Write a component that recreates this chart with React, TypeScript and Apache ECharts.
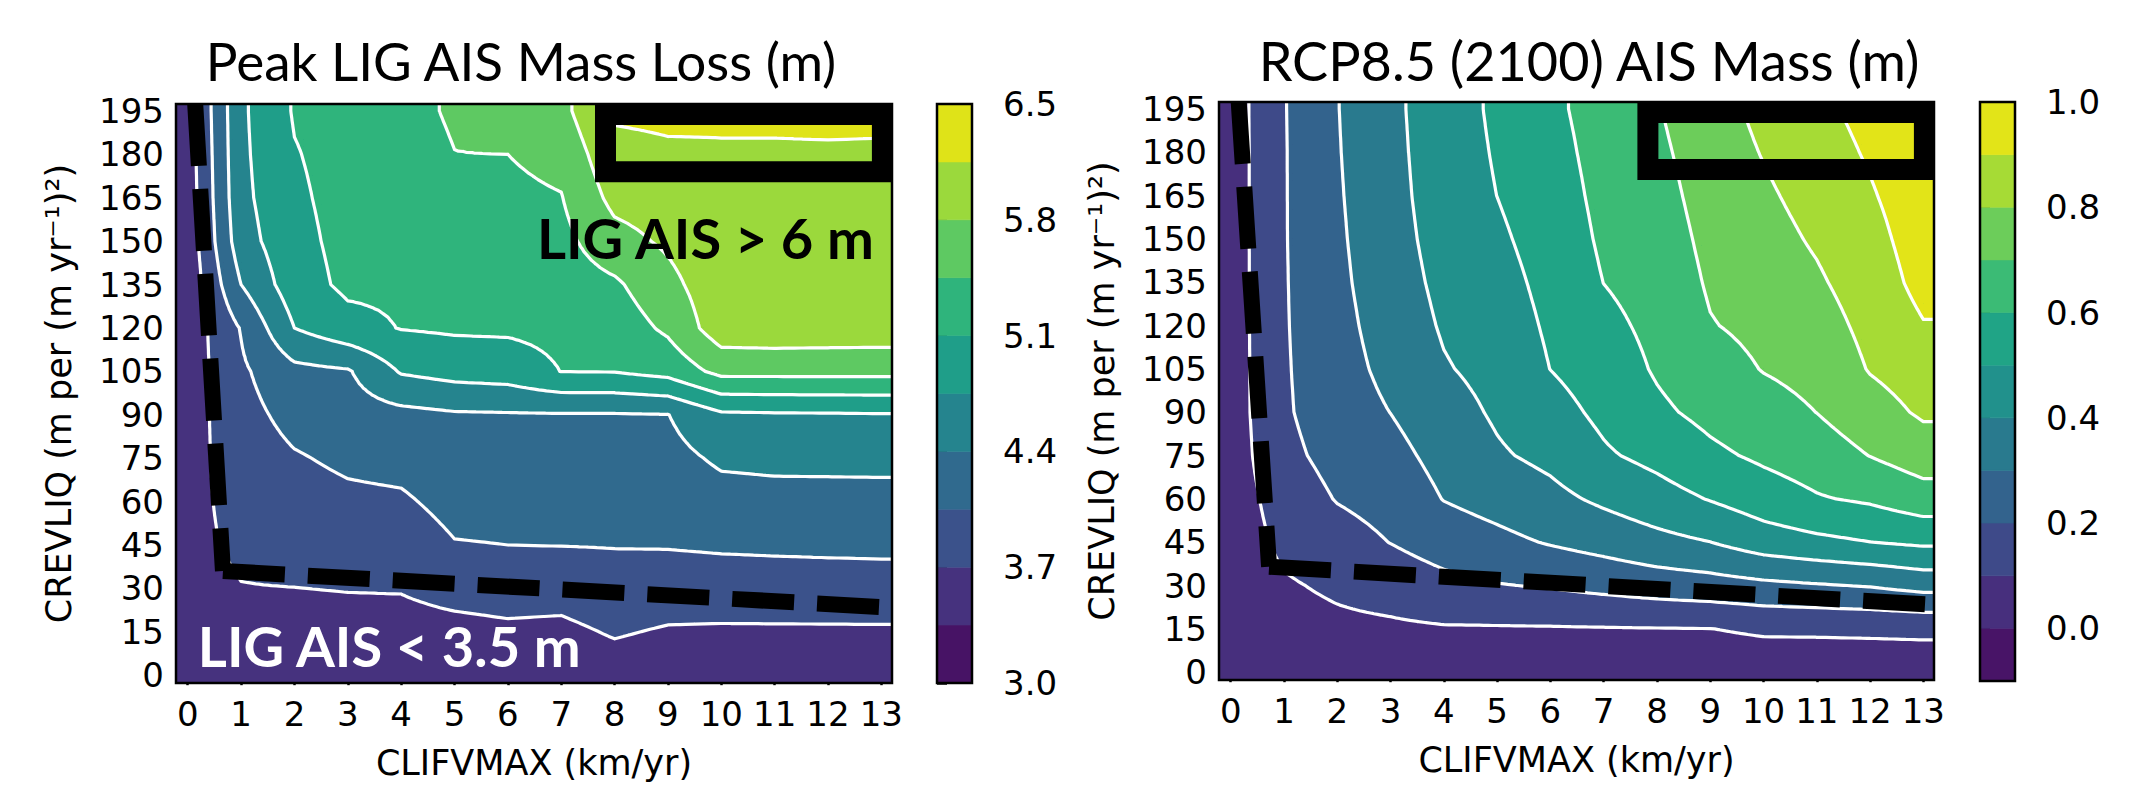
import React, { useEffect, useRef } from "react";
import * as echarts from "echarts";

// ---------- axes ----------
const CLIFVMAX = [0, 1, 2, 3, 4, 5, 6, 7, 8, 9, 10, 11, 12, 13];
const CREVLIQ = [0, 15, 30, 45, 60, 75, 90, 105, 120, 135, 150, 165, 180, 195];
const X_RANGE = [-0.22, 13.2];
const Y_RANGE = [-2.7, 197.4];

// ---------- left panel: Peak LIG AIS mass loss (m), rows = CREVLIQ (0..195), cols = CLIFVMAX (0..13) ----------
const LIG_LEVELS = [3.0, 3.35, 3.7, 4.05, 4.4, 4.75, 5.1, 5.45, 5.8, 6.15, 6.5];
const LIG_TICKS = [3.0, 3.7, 4.4, 5.1, 5.8, 6.5];
const LIG_COLORS = ["#471365", "#46327e", "#3b528b", "#306a8e", "#25848e", "#1f9e89", "#2fb47c", "#5ec962", "#9bd93c", "#dfe318"];
const LIG_PEAK_LOSS = [
  [3.45, 3.5, 3.5, 3.5, 3.5, 3.5, 3.5, 3.5, 3.55, 3.5, 3.5, 3.5, 3.5, 3.5],
  [3.5, 3.59, 3.6, 3.6, 3.6, 3.62, 3.65, 3.63, 3.729, 3.67, 3.66, 3.66, 3.66, 3.66],
  [3.58, 3.69, 3.697, 3.71, 3.715, 3.788, 3.816, 3.817, 3.9, 3.859, 3.869, 3.878, 3.887, 3.895],
  [3.62, 3.752, 3.805, 3.847, 3.868, 4.034, 4.05, 4.057, 4.064, 4.071, 4.096, 4.109, 4.118, 4.125],
  [3.6, 3.81, 3.913, 3.981, 4.005, 4.149, 4.157, 4.164, 4.168, 4.179, 4.268, 4.286, 4.289, 4.292],
  [3.57, 3.873, 4.021, 4.112, 4.15, 4.255, 4.264, 4.27, 4.273, 4.286, 4.456, 4.481, 4.483, 4.486],
  [3.54, 3.933, 4.157, 4.239, 4.3, 4.361, 4.371, 4.377, 4.377, 4.393, 4.694, 4.712, 4.719, 4.729],
  [3.5, 3.994, 4.303, 4.366, 4.78, 4.874, 4.915, 5.105, 5.112, 5.217, 5.55, 5.55, 5.55, 5.55],
  [3.48, 4.07, 4.75, 4.983, 5.113, 5.147, 5.152, 5.188, 5.253, 5.513, 6.0, 6.02, 6.01, 6.0],
  [3.45, 4.4, 4.95, 5.17, 5.16, 5.222, 5.226, 5.27, 5.394, 5.7, 6.03, 6.03, 6.03, 6.03],
  [3.48, 4.6, 5.0, 5.2, 5.21, 5.296, 5.3, 5.35, 5.675, 5.857, 6.06, 6.06, 6.06, 6.06],
  [3.5, 4.66, 5.04, 5.22, 5.255, 5.37, 5.375, 5.435, 5.9, 5.979, 6.09, 6.09, 6.09, 6.09],
  [3.52, 4.68, 5.08, 5.23, 5.3, 5.445, 5.45, 5.55, 6.05, 6.101, 6.12, 6.12, 6.12, 6.12],
  [3.55, 4.69, 5.13, 5.24, 5.35, 5.49, 5.61, 5.7, 6.2, 6.22, 6.2, 6.2, 6.21, 6.2],
];

// ---------- right panel: RCP8.5 (2100) AIS mass (m) ----------
const RCP_LEVELS = [-0.1, 0.0, 0.1, 0.2, 0.3, 0.4, 0.5, 0.6, 0.7, 0.8, 0.9, 1.0];
const RCP_TICKS = [0.0, 0.2, 0.4, 0.6, 0.8, 1.0];
const RCP_COLORS = ["#481467", "#472f7d", "#3e4a89", "#33638d", "#297a8e", "#21918c", "#20a486", "#3bbb75", "#6ccd5a", "#a6db35", "#e2e418"];
const RCP_MASS_2100 = [
  [0.02, 0.04, 0.05, 0.05, 0.05, 0.05, 0.05, 0.05, 0.05, 0.05, 0.05, 0.05, 0.05, 0.05],
  [0.03, 0.065, 0.08, 0.085, 0.092, 0.092, 0.093, 0.095, 0.097, 0.099, 0.111, 0.112, 0.114, 0.117],
  [0.04, 0.09, 0.115, 0.138, 0.173, 0.195, 0.208, 0.227, 0.246, 0.259, 0.278, 0.292, 0.306, 0.334],
  [0.045, 0.12, 0.16, 0.202, 0.245, 0.275, 0.307, 0.336, 0.371, 0.399, 0.45, 0.477, 0.499, 0.517],
  [0.047, 0.145, 0.205, 0.235, 0.303, 0.336, 0.373, 0.418, 0.46, 0.505, 0.552, 0.592, 0.614, 0.657],
  [0.048, 0.175, 0.232, 0.269, 0.332, 0.388, 0.424, 0.487, 0.528, 0.58, 0.617, 0.649, 0.702, 0.749],
  [0.05, 0.188, 0.252, 0.301, 0.36, 0.413, 0.463, 0.522, 0.582, 0.626, 0.663, 0.701, 0.759, 0.814],
  [0.05, 0.19, 0.263, 0.325, 0.392, 0.431, 0.501, 0.548, 0.61, 0.66, 0.704, 0.729, 0.806, 0.847],
  [0.05, 0.192, 0.271, 0.342, 0.41, 0.449, 0.514, 0.575, 0.624, 0.695, 0.724, 0.758, 0.827, 0.895],
  [0.05, 0.193, 0.279, 0.355, 0.424, 0.466, 0.527, 0.601, 0.638, 0.711, 0.745, 0.787, 0.848, 0.93],
  [0.05, 0.194, 0.285, 0.364, 0.436, 0.484, 0.54, 0.615, 0.652, 0.724, 0.765, 0.812, 0.869, 0.945],
  [0.05, 0.194, 0.29, 0.37, 0.445, 0.5005, 0.554, 0.625, 0.666, 0.737, 0.785, 0.834, 0.891, 0.955],
  [0.05, 0.194, 0.294, 0.375, 0.449, 0.509, 0.567, 0.633, 0.68, 0.749, 0.805, 0.856, 0.911, 0.963],
  [0.051, 0.195, 0.297, 0.379, 0.452, 0.517, 0.58, 0.639, 0.694, 0.762, 0.824, 0.878, 0.93, 0.97],
];

// ---------- annotations (data coordinates) ----------
const LIG_DASH_VERTICAL = [[0.14, 197.4], [0.66, 36]];
const LIG_DASH_HORIZONTAL = [[0.66, 36], [13.05, 23.5]];
const RCP_DASH_VERTICAL = [[0.15, 197.4], [0.72, 36.5]];
const RCP_DASH_HORIZONTAL = [[0.72, 36.5], [13.05, 23.5]];
const BOX_CORNERS = [[7.83, 174], [13.02, 193.8]];

const TICK_FONT = { fontFamily: "DejaVu Sans", fontSize: 34, color: "#000" };
const NAME_FONT = { fontFamily: "DejaVu Sans", fontSize: 35, color: "#000" };

function clampIdx(v: number, n: number) {
  return Math.min(Math.max(v, 0), n - 1);
}

function f1(n: number) {
  return Math.round(n * 10) / 10;
}

function clipTriangle(tri: number[][], L: number): number[][] {
  const out: number[][] = [];
  for (let m = 0; m < tri.length; m++) {
    const P = tri[m];
    const Q = tri[(m + 1) % tri.length];
    const pin = P[2] >= L;
    const qin = Q[2] >= L;
    if (pin) out.push(P);
    if (pin !== qin) {
      const t = (L - P[2]) / (Q[2] - P[2]);
      out.push([P[0] + t * (Q[0] - P[0]), P[1] + t * (Q[1] - P[1]), L]);
    }
  }
  return out;
}

function polyStr(pts: number[][]) {
  return "M" + pts.map((p) => f1(p[0]) + " " + f1(p[1])).join("L") + "Z";
}

function segInTri(tri: number[][], L: number, segs: string[]) {
  const pts: number[][] = [];
  for (let m = 0; m < 3; m++) {
    const A = tri[m];
    const B = tri[(m + 1) % 3];
    if ((A[2] >= L) !== (B[2] >= L)) {
      const t = (L - A[2]) / (B[2] - A[2]);
      pts.push([A[0] + t * (B[0] - A[0]), A[1] + t * (B[1] - A[1])]);
    }
  }
  if (pts.length === 2) segs.push("M" + f1(pts[0][0]) + " " + f1(pts[0][1]) + "L" + f1(pts[1][0]) + " " + f1(pts[1][1]));
}

function contourRenderer(rows: number[][], levels: number[], colors: string[]) {
  return function (params: any, api: any) {
    const nx = CLIFVMAX.length;
    const ny = CREVLIQ.length;
    // render grid: data nodes plus the axis bounds (edge values carried to the frame)
    const gx = [X_RANGE[0], ...CLIFVMAX, X_RANGE[1]];
    const gy = [Y_RANGE[0], ...CREVLIQ, Y_RANGE[1]];
    const node = (i: number, j: number) => rows[clampIdx(j - 1, ny)][clampIdx(i - 1, nx)];
    const px = gx.map((x) => api.coord([x, CREVLIQ[0]])[0]);
    const py = gy.map((y) => api.coord([CLIFVMAX[0], y])[1]);
    const S = 6;
    const FX: number[] = [], CX: number[] = [], TX: number[] = [];
    for (let i = 0; i < gx.length - 1; i++) {
      for (let s = 0; s < S; s++) {
        FX.push(px[i] + ((px[i + 1] - px[i]) * s) / S);
        CX.push(i);
        TX.push(s / S);
      }
    }
    FX.push(px[gx.length - 1]); CX.push(gx.length - 2); TX.push(1);
    const FY: number[] = [], CY: number[] = [], TY: number[] = [];
    for (let j = 0; j < gy.length - 1; j++) {
      for (let s = 0; s < S; s++) {
        FY.push(py[j] + ((py[j + 1] - py[j]) * s) / S);
        CY.push(j);
        TY.push(s / S);
      }
    }
    FY.push(py[gy.length - 1]); CY.push(gy.length - 2); TY.push(1);

    const F: number[][] = [];
    for (let r = 0; r < FY.length; r++) {
      const row: number[] = [];
      const j = CY[r], u = TY[r];
      for (let c = 0; c < FX.length; c++) {
        const i = CX[c], t = TX[c];
        const v00 = node(i, j), v10 = node(i + 1, j), v01 = node(i, j + 1), v11 = node(i + 1, j + 1);
        row.push((1 - t) * (1 - u) * v00 + t * (1 - u) * v10 + (1 - t) * u * v01 + t * u * v11);
      }
      F.push(row);
    }

    const children: any[] = [];
    const x0 = FX[0], x1 = FX[FX.length - 1];
    const yb = FY[0], yt = FY[FY.length - 1];
    children.push({ type: "rect", shape: { x: x0, y: yt, width: x1 - x0, height: yb - yt }, style: { fill: colors[0] } });

    for (let k = 1; k < levels.length - 1; k++) {
      const L = levels[k];
      const parts: string[] = [];
      for (let r = 0; r < FY.length - 1; r++) {
        let run = -1;
        for (let c = 0; c < FX.length - 1; c++) {
          const a = F[r][c], b = F[r][c + 1], d = F[r + 1][c + 1], e = F[r + 1][c];
          const allIn = a >= L && b >= L && d >= L && e >= L;
          if (allIn) {
            if (run < 0) run = c;
            continue;
          }
          if (run >= 0) {
            parts.push(polyStr([[FX[run], FY[r]], [FX[c], FY[r]], [FX[c], FY[r + 1]], [FX[run], FY[r + 1]]]));
            run = -1;
          }
          if (a >= L || b >= L || d >= L || e >= L) {
            const A = [FX[c], FY[r], a], B = [FX[c + 1], FY[r], b], D = [FX[c + 1], FY[r + 1], d], E = [FX[c], FY[r + 1], e];
            const p1 = clipTriangle([A, B, D], L);
            if (p1.length >= 3) parts.push(polyStr(p1));
            const p2 = clipTriangle([A, D, E], L);
            if (p2.length >= 3) parts.push(polyStr(p2));
          }
        }
        if (run >= 0) {
          const c = FX.length - 1;
          parts.push(polyStr([[FX[run], FY[r]], [FX[c], FY[r]], [FX[c], FY[r + 1]], [FX[run], FY[r + 1]]]));
        }
      }
      if (parts.length) children.push({ type: "path", shape: { pathData: parts.join("") }, style: { fill: colors[k] } });
    }

    for (let k = 1; k < levels.length - 1; k++) {
      const L = levels[k];
      const segs: string[] = [];
      for (let r = 0; r < FY.length - 1; r++) {
        for (let c = 0; c < FX.length - 1; c++) {
          const A = [FX[c], FY[r], F[r][c]], B = [FX[c + 1], FY[r], F[r][c + 1]];
          const D = [FX[c + 1], FY[r + 1], F[r + 1][c + 1]], E = [FX[c], FY[r + 1], F[r + 1][c]];
          segInTri([A, B, D], L, segs);
          segInTri([A, D, E], L, segs);
        }
      }
      if (segs.length)
        children.push({
          type: "path",
          shape: { pathData: segs.join("") },
          style: { fill: null, stroke: "#ffffff", lineWidth: 3.2, lineCap: "round", lineJoin: "round" },
        });
    }
    return { type: "group", children };
  };
}

function overlayRenderer(texts: any[]) {
  return function (params: any, api: any) {
    const children: any[] = [];
    const b0 = api.coord(BOX_CORNERS[0]);
    const b1 = api.coord(BOX_CORNERS[1]);
    children.push({
      type: "rect",
      shape: { x: b0[0], y: b1[1], width: b1[0] - b0[0], height: b0[1] - b1[1] },
      style: { fill: null, stroke: "#000", lineWidth: 21, lineJoin: "miter" },
    });
    for (const t of texts) {
      const p = api.coord(t.at);
      children.push({
        type: "text",
        x: p[0],
        y: p[1],
        scaleX: t.scaleX,
        style: { text: t.text, fill: t.color, font: t.font, align: t.align, verticalAlign: "middle" },
      });
    }
    const f0 = api.coord([X_RANGE[0], Y_RANGE[0]]);
    const f1p = api.coord([X_RANGE[1], Y_RANGE[1]]);
    children.push({
      type: "rect",
      shape: { x: f0[0], y: f1p[1], width: f1p[0] - f0[0], height: f0[1] - f1p[1] },
      style: { fill: null, stroke: "#000", lineWidth: 2.5 },
    });
    return { type: "group", children };
  };
}

function colorbarRenderer(colors: string[]) {
  return function (params: any, api: any) {
    const lo = api.value(1);
    const hi = api.value(2);
    const p0 = api.coord([0, lo]);
    const p1 = api.coord([1, hi]);
    return {
      type: "rect",
      shape: { x: p0[0], y: p1[1], width: p1[0] - p0[0], height: p0[1] - p1[1] },
      style: { fill: colors[params.dataIndex], stroke: colors[params.dataIndex], lineWidth: 0.6 },
    };
  };
}

function colorbarFrame(levels: number[]) {
  return function (params: any, api: any) {
    const p0 = api.coord([0, levels[0]]);
    const p1 = api.coord([1, levels[levels.length - 1]]);
    return {
      type: "rect",
      shape: { x: p0[0], y: p1[1], width: p1[0] - p0[0], height: p0[1] - p1[1] },
      style: { fill: null, stroke: "#000", lineWidth: 2.5 },
    };
  };
}

function plotXAxis(gridIndex: number) {
  return {
    type: "value",
    gridIndex,
    min: X_RANGE[0],
    max: X_RANGE[1],
    axisLine: { show: false },
    axisTick: { show: true, customValues: CLIFVMAX, length: 10, lineStyle: { color: "#000", width: 2.5 } },
    axisLabel: { show: true, customValues: CLIFVMAX, margin: 14, ...TICK_FONT },
    splitLine: { show: false },
    name: "CLIFVMAX (km/yr)",
    nameLocation: "middle",
    nameGap: 62,
    nameTextStyle: NAME_FONT,
  };
}

function plotYAxis(gridIndex: number) {
  return {
    type: "value",
    gridIndex,
    min: Y_RANGE[0],
    max: Y_RANGE[1],
    axisLine: { show: false },
    axisTick: { show: true, customValues: CREVLIQ, length: 10, lineStyle: { color: "#000", width: 2.5 } },
    axisLabel: { show: true, customValues: CREVLIQ, margin: 12, ...TICK_FONT },
    splitLine: { show: false },
    name: "CREVLIQ (m per (m yr\u207B\u00B9)\u00B2)",
    nameLocation: "middle",
    nameRotate: 90,
    nameGap: 100,
    nameTextStyle: NAME_FONT,
  };
}

function cbarXAxis(gridIndex: number) {
  return { type: "value", gridIndex, min: 0, max: 1, show: false };
}

function cbarYAxis(gridIndex: number, levels: number[], ticks: number[]) {
  return {
    type: "value",
    gridIndex,
    position: "right",
    min: levels[0],
    max: levels[levels.length - 1],
    axisLine: { show: false },
    axisTick: { show: true, customValues: ticks, length: 10, lineStyle: { color: "#000", width: 2.5 } },
    axisLabel: { show: true, customValues: ticks, margin: 31, formatter: (v: number) => v.toFixed(1), ...TICK_FONT },
    splitLine: { show: false },
  };
}

function buildOption() {
  const ligBands = LIG_LEVELS.slice(0, -1).map((lo, k) => [0.5, lo, LIG_LEVELS[k + 1]]);
  const rcpBands = RCP_LEVELS.slice(0, -1).map((lo, k) => [0.5, lo, RCP_LEVELS[k + 1]]);
  const dashStyle = { color: "#000", width: 16, type: [62, 23], cap: "butt" };
  const dashSeries = (data: number[][], xi: number) => ({
    type: "line",
    xAxisIndex: xi,
    yAxisIndex: xi,
    data,
    showSymbol: false,
    symbol: "none",
    lineStyle: dashStyle,
    z: 3,
    silent: true,
  });
  return {
    animation: false,
    backgroundColor: "#ffffff",
    grid: [
      { left: 176, top: 104, width: 716, height: 579, outerBoundsMode: "none" },
      { left: 1219, top: 102, width: 715, height: 578, outerBoundsMode: "none" },
      { left: 937, top: 104, width: 35, height: 579, outerBoundsMode: "none" },
      { left: 1980, top: 102, width: 35, height: 579, outerBoundsMode: "none" },
    ],
    xAxis: [plotXAxis(0), plotXAxis(1), cbarXAxis(2), cbarXAxis(3)],
    yAxis: [plotYAxis(0), plotYAxis(1), cbarYAxis(2, LIG_LEVELS, LIG_TICKS), cbarYAxis(3, RCP_LEVELS, RCP_TICKS)],
    graphic: [
      {
        type: "text",
        x: 521,
        y: 60,
        style: { text: "Peak LIG AIS Mass Loss (m)", font: "53px Lato", fill: "#000", align: "center", verticalAlign: "middle" },
      },
      {
        type: "text",
        x: 1589,
        y: 60,
        style: { text: "RCP8.5 (2100) AIS Mass (m)", font: "54px Lato", fill: "#000", align: "center", verticalAlign: "middle" },
      },
    ],
    series: [
      {
        type: "custom",
        coordinateSystem: "cartesian2d",
        xAxisIndex: 0,
        yAxisIndex: 0,
        clip: true,
        z: 1,
        silent: true,
        data: [[6.5, 97.5]],
        renderItem: contourRenderer(LIG_PEAK_LOSS, LIG_LEVELS, LIG_COLORS),
      },
      {
        type: "custom",
        coordinateSystem: "cartesian2d",
        xAxisIndex: 1,
        yAxisIndex: 1,
        clip: true,
        z: 1,
        silent: true,
        data: [[6.5, 97.5]],
        renderItem: contourRenderer(RCP_MASS_2100, RCP_LEVELS, RCP_COLORS),
      },
      dashSeries(LIG_DASH_VERTICAL, 0),
      dashSeries(LIG_DASH_HORIZONTAL, 0),
      dashSeries(RCP_DASH_VERTICAL, 1),
      dashSeries(RCP_DASH_HORIZONTAL, 1),
      {
        type: "custom",
        coordinateSystem: "cartesian2d",
        xAxisIndex: 0,
        yAxisIndex: 0,
        clip: false,
        z: 4,
        silent: true,
        data: [[6.5, 97.5]],
        renderItem: overlayRenderer([
          { text: "LIG AIS > 6 m", at: [12.86, 151.3], color: "#000", font: "bold 56px Lato", align: "right", scaleX: 1 },
          { text: "LIG AIS < 3.5 m", at: [0.19, 10.4], color: "#fff", font: "bold 56px Lato", align: "left", scaleX: 1 },
        ]),
      },
      {
        type: "custom",
        coordinateSystem: "cartesian2d",
        xAxisIndex: 1,
        yAxisIndex: 1,
        clip: false,
        z: 4,
        silent: true,
        data: [[6.5, 97.5]],
        renderItem: overlayRenderer([]),
      },
      {
        type: "custom",
        coordinateSystem: "cartesian2d",
        xAxisIndex: 2,
        yAxisIndex: 2,
        silent: true,
        encode: { x: 0, y: [1, 2] },
        data: ligBands,
        renderItem: colorbarRenderer(LIG_COLORS),
      },
      {
        type: "custom",
        coordinateSystem: "cartesian2d",
        xAxisIndex: 3,
        yAxisIndex: 3,
        silent: true,
        encode: { x: 0, y: [1, 2] },
        data: rcpBands,
        renderItem: colorbarRenderer(RCP_COLORS),
      },
      {
        type: "custom",
        coordinateSystem: "cartesian2d",
        xAxisIndex: 2,
        yAxisIndex: 2,
        silent: true,
        z: 4,
        data: [[0.5, 4.75]],
        renderItem: colorbarFrame(LIG_LEVELS),
      },
      {
        type: "custom",
        coordinateSystem: "cartesian2d",
        xAxisIndex: 3,
        yAxisIndex: 3,
        silent: true,
        z: 4,
        data: [[0.5, 0.45]],
        renderItem: colorbarFrame(RCP_LEVELS),
      },
    ],
  };
}

export default function App() {
  const ref = useRef<HTMLDivElement>(null);
  useEffect(() => {
    if (!ref.current) return;
    const chart = echarts.init(ref.current, null, { renderer: "svg" });
    chart.setOption(buildOption() as any);
    return () => {
      chart.dispose();
    };
  }, []);
  return (
    <div
      ref={ref}
      style={{ position: "fixed", left: 0, top: 0, width: 2139, height: 785, background: "#ffffff" }}
    />
  );
}
